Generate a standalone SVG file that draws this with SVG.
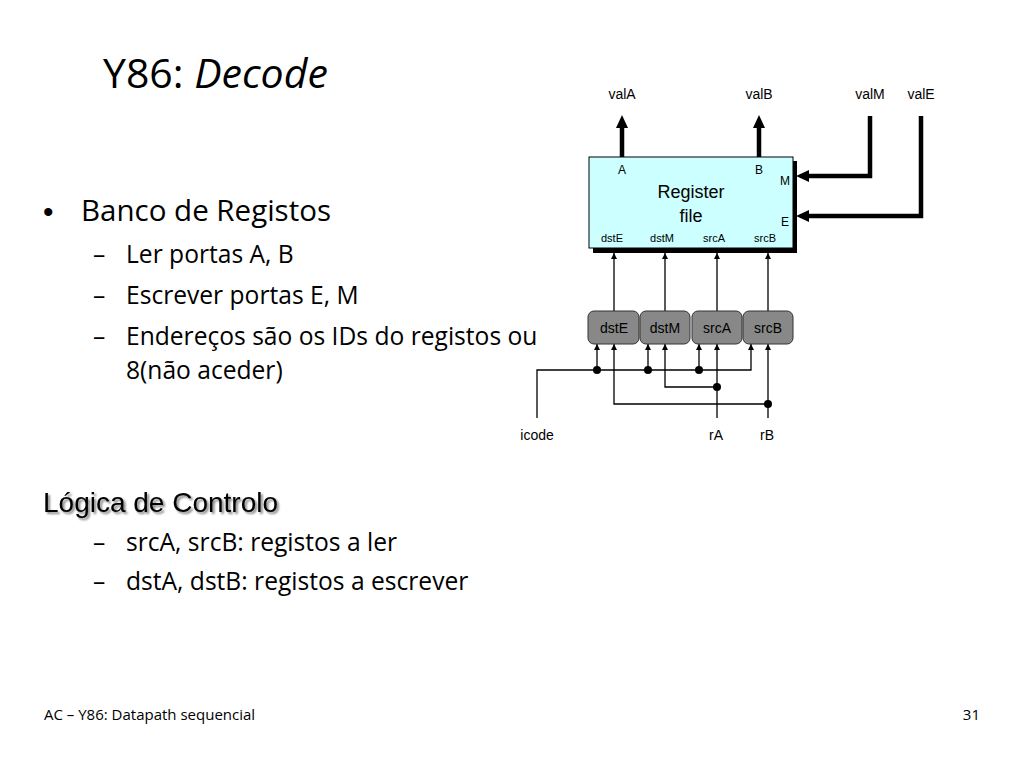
<svg xmlns="http://www.w3.org/2000/svg" width="1024" height="768" viewBox="0 0 1024 768">
<defs>
<style>
.cal{font-family:"Open Sans",Lato,"Liberation Sans",sans-serif;fill:#000}
.ar{font-family:"Liberation Sans",Arial,sans-serif;fill:#000}
.thin{stroke:#000;stroke-width:1.3;fill:none}
.thick{stroke:#000;stroke-width:4.5;fill:none}
.box{fill:#888;stroke:#333;stroke-width:1}
</style>
<marker id="ah" viewBox="0 0 10 10" refX="10" refY="5" markerWidth="6" markerHeight="6" markerUnits="userSpaceOnUse" orient="auto">
<path d="M0,0 L10,5 L0,10 z" fill="#000"/>
</marker>
<filter id="sh" x="-5%" y="-20%" width="110%" height="150%">
<feGaussianBlur in="SourceAlpha" stdDeviation="1"/>
<feOffset dx="2" dy="2" result="o"/>
<feComponentTransfer><feFuncA type="linear" slope="0.5"/></feComponentTransfer>
<feMerge><feMergeNode/><feMergeNode in="SourceGraphic"/></feMerge>
</filter>
</defs>
<rect width="1024" height="768" fill="#fff"/>

<g id="title">
<text class="cal" x="103" y="88" font-size="41">Y86: <tspan font-style="italic">Decode</tspan></text>
</g>
<g id="bullets">
<text class="ar" x="43" y="222" font-size="30">•</text>
<text class="cal" x="81" y="221" font-size="29.5">Banco de Registos</text>
<text class="cal" x="93" y="263" font-size="24.6">–</text>
<text class="cal" x="126" y="263" font-size="24.6">Ler portas A, B</text>
<text class="cal" x="93" y="304" font-size="24.6">–</text>
<text class="cal" x="126" y="304" font-size="24.6">Escrever portas E, M</text>
<text class="cal" x="93" y="345" font-size="24.6">–</text>
<text class="cal" x="126" y="345" font-size="24.6">Endereços são os IDs do registos ou</text>
<text class="cal" x="126" y="379" font-size="24.6">8(não aceder)</text>
<text class="ar" x="43" y="512" font-size="28" filter="url(#sh)">Lógica de Controlo</text>
<text class="cal" x="93" y="551" font-size="24.6">–</text>
<text class="cal" x="126" y="551" font-size="24.6">srcA, srcB: registos a ler</text>
<text class="cal" x="93" y="590" font-size="24.6">–</text>
<text class="cal" x="126" y="590" font-size="24.6">dstA, dstB: registos a escrever</text>
</g>
<g id="footer">
<text class="cal" x="44" y="720" font-size="15">AC – Y86: Datapath sequencial</text>
<text class="cal" x="980" y="720" font-size="15" text-anchor="end">31</text>
</g>

<g id="connectors">
<line class="thick" x1="622" y1="157" x2="622" y2="127"/>
<polygon points="616,128 628,128 622,115" fill="#000"/>
<line class="thick" x1="759" y1="157" x2="759" y2="127"/>
<polygon points="753,128 765,128 759,115" fill="#000"/>
<polyline class="thick" points="870,116 870,176 808,176"/>
<polygon points="809,170 809,182 796,176" fill="#000"/>
<polyline class="thick" points="921,116 921,216 808,216"/>
<polygon points="809,210 809,222 796,216" fill="#000"/>
<line class="thin" x1="614" y1="311" x2="614" y2="253" marker-end="url(#ah)"/>
<line class="thin" x1="665" y1="311" x2="665" y2="253" marker-end="url(#ah)"/>
<line class="thin" x1="717" y1="311" x2="717" y2="253" marker-end="url(#ah)"/>
<line class="thin" x1="768" y1="311" x2="768" y2="253" marker-end="url(#ah)"/>
<polyline class="thin" points="537,418 537,370 751,370 751,344" marker-end="url(#ah)"/>
<line class="thin" x1="597" y1="370" x2="597" y2="344" marker-end="url(#ah)"/>
<line class="thin" x1="648" y1="370" x2="648" y2="344" marker-end="url(#ah)"/>
<line class="thin" x1="699" y1="370" x2="699" y2="344" marker-end="url(#ah)"/>
<line class="thin" x1="717" y1="418" x2="717" y2="344" marker-end="url(#ah)"/>
<polyline class="thin" points="717,387 665,387 665,344" marker-end="url(#ah)"/>
<line class="thin" x1="768" y1="418" x2="768" y2="344" marker-end="url(#ah)"/>
<polyline class="thin" points="768,404 614,404 614,344" marker-end="url(#ah)"/>
<circle cx="597" cy="370" r="4" fill="#000"/>
<circle cx="648" cy="370" r="4" fill="#000"/>
<circle cx="699" cy="370" r="4" fill="#000"/>
<circle cx="717" cy="387" r="4" fill="#000"/>
<circle cx="768" cy="404" r="4" fill="#000"/>
</g>

<g id="regfile">
<rect x="593" y="161" width="204" height="92" fill="#000"/>
<rect x="589" y="157" width="204" height="91" fill="#ccffff" stroke="#000" stroke-width="1"/>
<text class="ar" x="622" y="174" font-size="12" text-anchor="middle">A</text>
<text class="ar" x="759" y="174" font-size="12" text-anchor="middle">B</text>
<text class="ar" x="785" y="185" font-size="12" text-anchor="middle">M</text>
<text class="ar" x="785" y="226" font-size="12" text-anchor="middle">E</text>
<text class="ar" x="691" y="198" font-size="18" text-anchor="middle">Register</text>
<text class="ar" x="691" y="222" font-size="18" text-anchor="middle">file</text>
<text class="ar" x="612" y="242" font-size="11" text-anchor="middle">dstE</text>
<text class="ar" x="662" y="242" font-size="11" text-anchor="middle">dstM</text>
<text class="ar" x="714" y="242" font-size="11" text-anchor="middle">srcA</text>
<text class="ar" x="765" y="242" font-size="11" text-anchor="middle">srcB</text>
</g>

<g id="dstE"><rect class="box" x="588" y="311" width="51" height="33" rx="6"/><text class="ar" x="614" y="333" font-size="14" text-anchor="middle">dstE</text></g>
<g id="dstM"><rect class="box" x="640" y="311" width="50" height="33" rx="6"/><text class="ar" x="665" y="333" font-size="14" text-anchor="middle">dstM</text></g>
<g id="srcA"><rect class="box" x="692" y="311" width="50" height="33" rx="6"/><text class="ar" x="717" y="333" font-size="14" text-anchor="middle">srcA</text></g>
<g id="srcB"><rect class="box" x="743" y="311" width="50" height="33" rx="6"/><text class="ar" x="768" y="333" font-size="14" text-anchor="middle">srcB</text></g>

<g id="labels">
<text class="ar" x="622" y="99" font-size="14" text-anchor="middle">valA</text>
<text class="ar" x="759" y="99" font-size="14" text-anchor="middle">valB</text>
<text class="ar" x="870" y="99" font-size="14" text-anchor="middle">valM</text>
<text class="ar" x="921" y="99" font-size="14" text-anchor="middle">valE</text>
<text class="ar" x="537" y="440" font-size="14" text-anchor="middle">icode</text>
<text class="ar" x="716" y="440" font-size="14" text-anchor="middle">rA</text>
<text class="ar" x="767" y="440" font-size="14" text-anchor="middle">rB</text>
</g>
</svg>
